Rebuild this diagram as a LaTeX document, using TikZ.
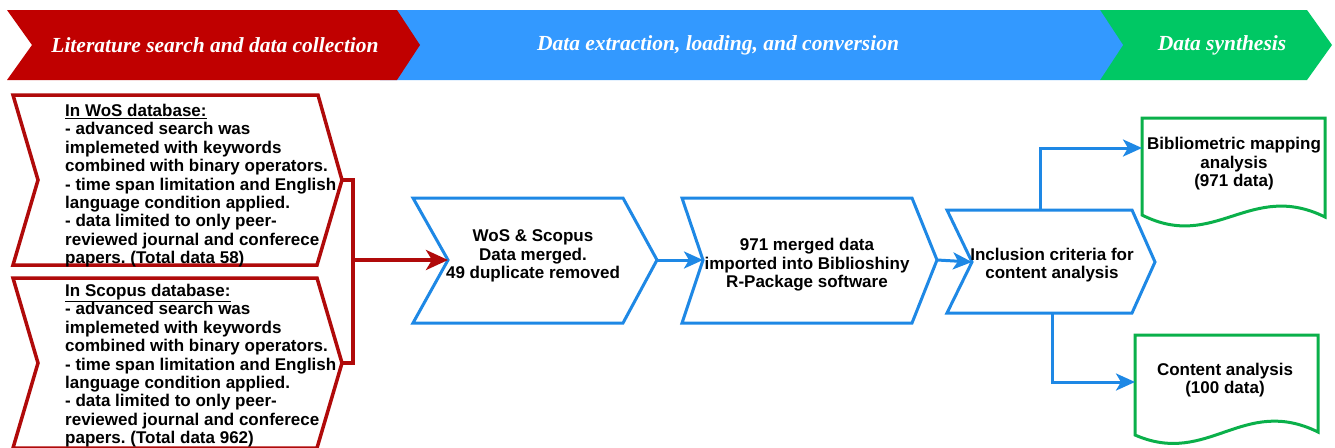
\documentclass[tikz,border=0pt]{standalone}
\usepackage{fontspec}
\setmainfont{Liberation Serif}
\setsansfont{Liberation Sans}
\usetikzlibrary{arrows.meta}
\frenchspacing
\definecolor{bred}{HTML}{C00000}
\definecolor{bblue}{HTML}{3399FF}
\definecolor{bgreen}{HTML}{00C864}
\definecolor{lred}{HTML}{B00A0A}
\definecolor{lblue}{HTML}{1E88E5}
\definecolor{lgreen}{HTML}{0AB04A}
\tikzset{
  bannertext/.style={text=white,font=\fontsize{21.5}{24}\selectfont\bfseries\itshape,inner sep=0pt},
  redshape/.style={draw=lred,line width=3.5pt,fill=white,line join=miter},
  blueshape/.style={draw=lblue,line width=3pt,fill=white,line join=miter},
  greenshape/.style={draw=lgreen,line width=3pt,fill=white,line join=miter},
  boxtext/.style={font=\sffamily\bfseries\fontsize{17}{18.4}\selectfont,inner sep=0pt,text=black},
  redline/.style={draw=lred,line width=3.5pt},
  blueline/.style={draw=lblue,line width=3pt},
  redarrow/.style={redline,-{Stealth[length=22pt,width=20pt,inset=6pt]}},
  bluearrow/.style={blueline,-{Stealth[length=19pt,width=17pt,inset=5pt]}}
}
\begin{document}
\begin{tikzpicture}[x=1pt,y=-1pt]
\useasboundingbox (0,0) rectangle (1335,447);
\clip (0,0) rectangle (1335,447);
\fill[white] (0,0) rectangle (1335,447);
% banners
\fill[bgreen] (1100,10)--(1307,10)--(1332,45)--(1307,80)--(1100,80)--cycle;
\fill[bblue] (380,10)--(1100,10)--(1123,45)--(1100,80)--(380,80)--cycle;
\fill[bred] (7,10)--(397,10)--(420,45)--(397,80)--(7,80)--(32,45)--cycle;
\node[bannertext] (b1) at (215,45.5) {Literature search and data collection};
\node[bannertext] (b2) at (718,45.5) {Data extraction, loading, and conversion};
\node[bannertext] (b3) at (1222,45.5) {Data synthesis};
% left boxes
\path[redshape] (13,95)--(318,95)--(342,180)--(317,265)--(13,265)--(38,180)--cycle;
\coordinate (wostip) at (342,180);
\node[boxtext,anchor=north west,align=left] (wos) at (65,104) {\underline{In WoS database:}\\
- advanced search was\\
implemeted with keywords\\
combined with binary operators.\\
- time span limitation and English\\
language condition applied.\\
- data limited to only peer-\\
reviewed journal and conferece\\
papers. (Total data 58)};
\path[redshape] (13,278)--(317,278)--(342,363)--(317,448)--(13,448)--(38,363)--cycle;
\coordinate (scotip) at (342,363);
\node[boxtext,anchor=north west,align=left] (sco) at (65,284) {\underline{In Scopus database:}\\
- advanced search was\\
implemeted with keywords\\
combined with binary operators.\\
- time span limitation and English\\
language condition applied.\\
- data limited to only peer-\\
reviewed journal and conferece\\
papers. (Total data 962)};
% merged box
\path[blueshape] (413,198)--(623,198)--(657,260)--(623,323)--(413,323)--(448,260)--cycle;
\coordinate (mnotch) at (448,260);
\coordinate (mtip) at (657,260);
\node[boxtext,align=center] (merged) at (533,256) {WoS \& Scopus\\Data merged.\\49 duplicate removed};
% 971 box
\path[blueshape] (682,198)--(912,198)--(937,260)--(912,323)--(682,323)--(703,260)--cycle;
\coordinate (inotch) at (703,260);
\coordinate (itip) at (937,260);
\node[boxtext,align=center] (imported) at (807,265) {971 merged data\\imported into Biblioshiny\\R-Package software};
% inclusion box
\path[blueshape] (947,210)--(1132,210)--(1155,262)--(1132,313)--(947,313)--(972,262)--cycle;
\coordinate (cnotch) at (972,262);
\coordinate (ctop) at (1040,210);
\coordinate (cbot) at (1052,313);
\node[boxtext,align=center] (incl) at (1052,265) {Inclusion criteria for\\content analysis};
% documents
\path[greenshape] (1142,118)--(1325,118)--(1325,217) .. controls (1250,180) and (1215,252) .. (1142,215) -- cycle;
\coordinate (bibin) at (1142,148);
\node[boxtext,align=center] (bib) at (1234,164) {Bibliometric mapping\\analysis\\(971 data)};
\path[greenshape] (1135,335)--(1318,335)--(1318,432) .. controls (1243,395) and (1208,467) .. (1135,435) -- cycle;
\coordinate (conin) at (1135,382);
\node[boxtext,align=center] (con) at (1225,380) {Content analysis\\(100 data)};
% connectors
\coordinate (rj) at (353,260);
\draw[redline,line join=miter] (wostip) -- (353,180) -- (353,363) -- (scotip);
\draw[redarrow] (rj) -- (mnotch);
\draw[bluearrow] (mtip) -- (inotch);
\draw[bluearrow] (itip) -- (cnotch);
\draw[bluearrow] (ctop) |- (bibin);
\draw[bluearrow] (cbot) |- (conin);
\end{tikzpicture}
\end{document}
